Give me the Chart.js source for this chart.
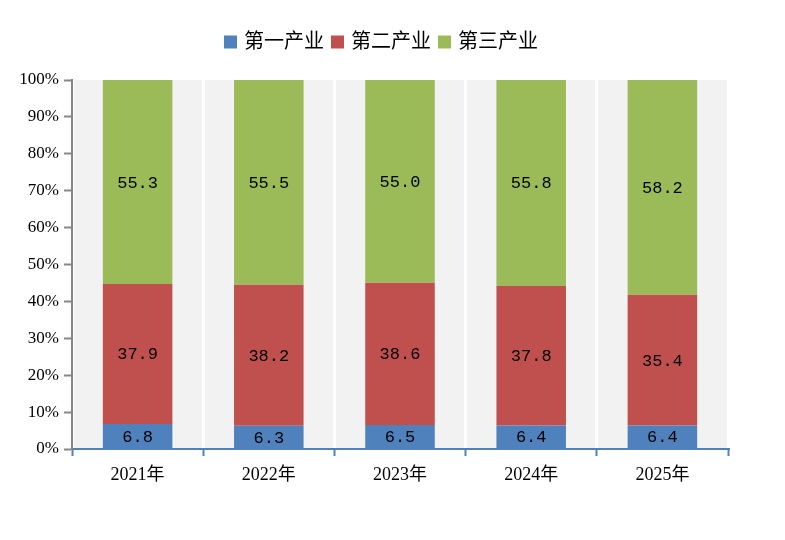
<!DOCTYPE html>
<html>
<head>
<meta charset="utf-8">
<script src="https://cdn.jsdelivr.net/npm/chart.js@4"></script>
<style>
  html, body { margin: 0; padding: 0; background: #fff; }
</style>
</head>
<body>
<canvas id="chart" width="785" height="540"></canvas>
<script>
// Chart data
const years = ['2021年', '2022年', '2023年', '2024年', '2025年'];
const primary = [6.8, 6.3, 6.5, 6.4, 6.4];
const secondary = [37.9, 38.2, 38.6, 37.8, 35.4];
const tertiary = [55.3, 55.5, 55.0, 55.8, 58.2];
const yTicks = ['0%', '10%', '20%', '30%', '40%', '50%', '60%', '70%', '80%', '90%', '100%'];

const FONT = '"Liberation Serif", "Noto Sans CJK SC", serif';
const LEGEND_FONT = '20px "Liberation Serif", "Noto Sans CJK SC", serif';

// share of the yearly total, so every column reaches 100%
function share(arr, i) {
    const total = primary[i] + secondary[i] + tertiary[i];
    return arr[i] / total * 100;
}

const series = [
    { label: '第一产业', raw: primary, color: '#4f81bd' },
    { label: '第二产业', raw: secondary, color: '#c0504d' },
    { label: '第三产业', raw: tertiary, color: '#9bbb59' }
];

// gray plot background
const plotBg = {
    id: 'plotBg',
    beforeDraw(chart) {
        const { ctx, chartArea: a } = chart;
        ctx.save();
        ctx.fillStyle = '#f2f2f2';
        ctx.fillRect(a.left, a.top, a.right - a.left, a.bottom - a.top);
        ctx.restore();
    }
};

// value labels in the middle of each segment
const valueLabels = {
    id: 'valueLabels',
    afterDatasetsDraw(chart) {
        const { ctx } = chart;
        ctx.save();
        ctx.font = '17px "Liberation Mono", monospace';
        ctx.fillStyle = '#000';
        ctx.textAlign = 'center';
        ctx.textBaseline = 'middle';
        chart.data.datasets.forEach((ds, di) => {
            chart.getDatasetMeta(di).data.forEach((bar, i) => {
                const p = bar.getProps(['x', 'y', 'base'], true);
                ctx.fillText(ds.raw[i].toFixed(1), p.x, (p.y + p.base) / 2 + 1);
            });
        });
        ctx.restore();
    }
};

// legend centred on the page, drawn by hand
const topLegend = {
    id: 'topLegend',
    afterDraw(chart) {
        const { ctx } = chart;
        const box = 13, gapText = 7, gapItem = 7;
        ctx.save();
        ctx.font = LEGEND_FONT;
        ctx.textBaseline = 'middle';
        const widths = series.map(s => ctx.measureText(s.label).width);
        const total = widths.reduce((a, w) => a + box + gapText + w, 0) + gapItem * (series.length - 1);
        let x = 381 - total / 2;
        const y = 42;
        series.forEach((s, i) => {
            ctx.fillStyle = s.color;
            ctx.fillRect(x, y - box / 2, box, box);
            x += box + gapText;
            ctx.fillStyle = '#000';
            ctx.fillText(s.label, x, y + 1);
            x += widths[i] + gapItem;
        });
        ctx.restore();
    }
};

new Chart(document.getElementById('chart').getContext('2d'), {
    type: 'bar',
    data: {
        labels: years,
        datasets: series.map(s => ({
            label: s.label,
            raw: s.raw,
            data: s.raw.map((_, i) => share(s.raw, i)),
            backgroundColor: s.color,
            borderWidth: 0,
            barPercentage: 0.53,
            categoryPercentage: 1
        }))
    },
    options: {
        responsive: false,
        animation: false,
        devicePixelRatio: 1,
        layout: { padding: { top: 80, right: 57, left: 0, bottom: 0 } },
        plugins: {
            legend: { display: false },
            tooltip: { enabled: false }
        },
        scales: {
            x: {
                stacked: true,
                afterFit(scale) { scale.height = 91; },
                grid: {
                    offset: true,
                    color: '#ffffff',
                    lineWidth: 3,
                    tickColor: '#4f81bd',
                    tickLength: 7,
                    tickWidth: 2
                },
                border: { color: '#4f81bd', width: 2 },
                ticks: { font: { family: FONT, size: 18 }, color: '#000', padding: 8 }
            },
            y: {
                stacked: true,
                min: 0,
                max: 100,
                afterFit(scale) { scale.width = 72; },
                grid: {
                    drawOnChartArea: false,
                    tickColor: '#868686',
                    tickLength: 8,
                    tickWidth: 2
                },
                border: { color: '#868686', width: 2 },
                ticks: {
                    stepSize: 10,
                    font: { family: FONT, size: 17 },
                    color: '#000',
                    padding: 5,
                    callback: (v) => yTicks[Math.round(v / 10)]
                }
            }
        }
    },
    plugins: [plotBg, valueLabels, topLegend]
});
</script>
</body>
</html>
